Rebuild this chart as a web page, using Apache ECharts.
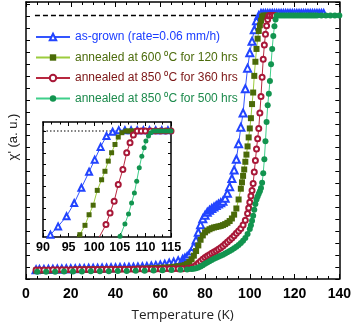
<!DOCTYPE html>
<html><head><meta charset="utf-8">
<script src="https://cdn.jsdelivr.net/npm/echarts@6/dist/echarts.min.js"></script>
<style>html,body{margin:0;padding:0;background:#fff}#c{width:354px;height:327px}</style>
</head><body><div id="c"></div>
<script>
const seriesNames = ['as-grown (rate=0.06 mm/h)', 'annealed at 600 \u2070C for 120 hrs', 'annealed at 850 \u2070C for 360 hrs', 'annealed at 850 \u2070C for 500 hrs'];
const xTickLabels = [0, 20, 40, 60, 80, 100, 120, 140];
const insetXTickLabels = [90, 95, 100, 105, 110, 115];
const insetYTicks = [0.064, 0.168, 0.272, 0.376, 0.48, 0.584, 0.688, 0.792, 0.896, 1.0];

const asGrown = [[4.5,.009],[6,.010],[8,.010],[10,.011],[12,.011],[14,.012],[16,.012],[18,.013],[20,.013],[22,.013],[24,.014],[26,.014],[28,.015],[30,.015],[32,.015],[34,.016],[36,.016],[38,.017],[40,.017],[42,.018],[44,.018],[46,.019],[48,.019],[50,.020],[52,.021],[54,.022],[56,.024],[58,.026],[60,.028],[62,.031],[64,.035],[66,.039],[68,.044],[70,.050],[71,.055],[72,.061],[73,.070],[74,.082],[75,.100],[76,.125],[77,.155],[78,.185],[79,.208],[80,.222],[81,.233],[82,.241],[83,.248],[84,.254],[85,.260],[86,.265],[87,.270],[88,.276],[89,.288],[90,.307],[91,.333],[92,.365],[93,.398],[94,.440],[95,.500],[96,.565],[97,.620],[98,.715],[99,.795],[100,.855],[101,.900],[102,.945],[103,.980],[104,1.0],[105,1.008],[106,1.008],[107,1.008],[108,1.008],[109,1.008],[110,1.008],[111,1.008],[112,1.008],[113,1.008],[114,1.008],[115,1.008],[116,1.008],[117,1.008],[118,1.008],[119,1.008],[120,1.008],[121,1.008],[122,1.008],[123,1.008],[124,1.008],[125,1.008],[126,1.008],[127,1.008],[128,1.008],[129,1.008],[130,1.008],[131,1.008],[132,1.008],[133,1.008]];

const ann600 = [[4.5,.006],[6,.006],[8,.006],[10,.007],[12,.007],[14,.007],[16,.008],[18,.008],[20,.008],[22,.009],[24,.009],[26,.009],[28,.010],[30,.010],[32,.010],[34,.010],[36,.011],[38,.011],[40,.011],[42,.011],[44,.012],[46,.012],[48,.012],[50,.013],[52,.013],[54,.014],[56,.015],[58,.016],[60,.017],[62,.018],[64,.019],[66,.021],[68,.023],[70,.025],[71,.027],[72,.032],[73,.040],[74,.050],[75,.064],[76,.082],[77,.104],[78,.126],[79,.143],[80,.155],[81,.162],[82,.167],[83,.171],[84,.174],[85,.176],[86,.178],[87,.180],[88,.183],[89,.187],[90,.192],[91,.199],[92,.209],[93,.224],[94,.248],[95,.283],[96,.325],[96.5,.350],[97,.375],[97.5,.400],[98,.430],[98.5,.458],[99,.490],[99.5,.525],[100,.560],[100.5,.600],[101,.655],[101.5,.700],[102,.765],[102.5,.820],[103,.870],[103.5,.910],[104,.940],[104.5,.962],[105,.980],[105.5,.995],[106,1.0],[107,1.0],[108,1.0],[109,1.0],[110,1.0],[111,1.0]];

const ann850h360 = [[4.5,.008],[6,.008],[8,.008],[10,.008],[12,.009],[14,.009],[16,.009],[18,.009],[20,.009],[22,.010],[24,.010],[26,.010],[28,.010],[30,.010],[32,.010],[34,.010],[36,.011],[38,.011],[40,.011],[42,.011],[44,.011],[46,.011],[48,.011],[50,.012],[52,.012],[54,.012],[56,.012],[58,.012],[60,.012],[62,.013],[64,.013],[66,.013],[68,.013],[70,.013],[72,.014],[73,.015],[74,.017],[75,.021],[76,.027],[77,.034],[78,.042],[79,.050],[80,.057],[81,.063],[82,.068],[83,.073],[84,.078],[85,.083],[86,.089],[87,.095],[88,.102],[89,.109],[90,.117],[91,.125],[92,.133],[93,.142],[94,.151],[95,.160],[96,.170],[97,.184],[98,.202],[99,.228],[99.5,.250],[100,.272],[100.5,.297],[101,.318],[101.5,.345],[102,.390],[102.5,.435],[103,.480],[103.5,.520],[104,.560],[104.5,.620],[105,.685],[105.5,.760],[106,.830],[106.5,.885],[107,.927],[107.5,.960],[108,.985],[108.5,.998],[109,1.0],[110,1.0],[111,1.0]];

const ann850h500 = [[5,.001],[9,.001],[13,.001],[17,.002],[21,.002],[25,.002],[29,.003],[33,.003],[37,.003],[41,.004],[45,.004],[49,.005],[53,.005],[57,.006],[61,.007],[65,.008],[69,.009],[72,.010],[74,.012],[75,.013],[76,.015],[77,.018],[78,.022],[79,.027],[80,.032],[81,.037],[82,.042],[83,.047],[84,.052],[85,.056],[86,.060],[87,.064],[88,.068],[89,.072],[90,.077],[91,.082],[92,.087],[93,.093],[94,.099],[95,.106],[96,.113],[97,.122],[98,.133],[99,.148],[100,.168],[100.5,.183],[101,.200],[101.5,.220],[102,.243],[102.5,.265],[103,.283],[103.5,.295],[104,.305],[104.5,.315],[105,.328],[105.5,.348],[106,.385],[106.5,.440],[107,.510],[107.5,.585],[108,.650],[108.5,.695],[109,.745],[109.5,.810],[110,.870],[110.5,.920],[111,.958],[111.5,.985],[112,1.0],[113,1.0],[114,1.0],[115,1.0],[116,1.0],[117,1.0],[118,1.0],[119,1.0],[120,1.0],[121,1.0],[122,1.0],[123,1.0],[124,1.0],[125,1.0],[126,1.0],[127,1.0],[128,1.0],[129,1.0],[130,1.0],[132,1.0],[134,1.0],[136,1.0],[138,1.0],[140,1.0]];

const insetGrown = [[90.7,0],[91.45,.022],[92.95,.10],[94.6,.196],[96.1,.32],[97.5,.464],[99.0,.615],[100.1,.73],[101.25,.85],[102.4,.953],[103.6,.993],[104.8,1.008],[106,1.008],[107.2,1.008],[108.4,1.008],[109.6,1.008],[110.8,1.008],[112,1.008],[113.2,1.008],[114.4,1.008]];
const insetAnn600 = [[96.7,0],[97.2,.022],[98.2,.11],[99.0,.21],[99.8,.30],[100.6,.44],[101.45,.54],[102.1,.62],[102.75,.716],[103.4,.795],[104.06,.873],[104.7,.943],[105.4,.984],[106.2,1.0],[106.7,1.0],[107.2,1.0],[107.7,1.0],[108.2,1.0],[108.7,1.0],[109.2,1.0],[109.7,1.0],[110.2,1.0],[110.7,1.0],[111.2,1.0],[111.7,1.0],[112.2,1.0],[112.7,1.0],[113.2,1.0],[113.7,1.0],[114.2,1.0],[114.7,1.0]];
const insetAnn850h360 = [[101.0,0],[102.3,.117],[103.1,.227],[103.9,.337],[104.7,.495],[105.6,.637],[106.35,.795],[107.0,.89],[107.65,.962],[108.4,1.0],[109.2,1.0],[110,1.0],[111,1.0],[112,1.0],[113,1.0],[114,1.0],[115,1.0]];
const insetAnn850h500 = [[105.05,.006],[106.0,.123],[106.7,.218],[107.3,.32],[107.85,.416],[108.3,.527],[108.8,.653],[109.3,.763],[109.75,.842],[110.1,.905],[110.6,.953],[111.05,.984],[111.6,1.0],[112.1,1.0],[112.6,1.0],[113.1,1.0],[113.6,1.0],[114.1,1.0],[114.6,1.0],[115,1.0]];

const plateauLine = [[4,1],[104,1]];
const insetPlateauLine = [[90,1],[103.5,1]];

const FF = 'Liberation Sans, Arial, sans-serif';
const styles = [
  {line:'#3355ff', mark:'#2244ff', text:'#1a3cff', symbol:'emptyTriangle', size:7, insetSize:6},
  {line:'#9ccc3c', mark:'#4a6a08', text:'#4b6b0b', symbol:'rect', size:6, insetSize:5},
  {line:'#b8283f', mark:'#a81838', text:'#7b1515', symbol:'emptyCircle', size:5, insetSize:5},
  {line:'#3fcf8a', mark:'#12944f', text:'#1c8a4c', symbol:'circle', size:6, insetSize:5}
];
const mainData = [asGrown, ann600, ann850h360, ann850h500];
const insetData = [insetGrown, insetAnn600, insetAnn850h360, insetAnn850h500];

function mkSeries(name, data, st, xi, yi, size, clipFirst) {
  return {
    name: name, type: 'line', xAxisIndex: xi, yAxisIndex: yi,
    data: data.map((p, i) => (clipFirst && i === 0 && p[1] === 0) ? {value: p, symbol: 'none'} : p),
    symbol: st.symbol, symbolSize: size, showSymbol: true,
    lineStyle: {color: st.line, width: 1},
    itemStyle: {color: st.mark, borderWidth: 1.1},
    animation: false, silent: true, clip: true
  };
}

const series = [];
series.push({type:'line', xAxisIndex:0, yAxisIndex:0, data: plateauLine, symbol:'none', lineStyle:{color:'#000', width:1.5, type:[5,3]}, animation:false, silent:true});
for (let i = 0; i < 4; i++) series.push(mkSeries(seriesNames[i], mainData[i], styles[i], 0, 0, styles[i].size, false));
series.push({type:'line', xAxisIndex:2, yAxisIndex:3, data: insetPlateauLine, symbol:'none', lineStyle:{color:'#000', width:1.2, type:[1.5,2]}, animation:false, silent:true});
for (let i = 0; i < 4; i++) series.push(mkSeries(seriesNames[i], insetData[i], styles[i], 2, 3, styles[i].insetSize, true));

const axLine = {show:true, onZero:false, lineStyle:{color:'#000', width:1.5}};
const noLine = {show:false, onZero:false};

const option = {
  backgroundColor: '#fff',
  animation: false,
  grid: [
    {left:26, right:13, top:2, bottom:42},
    {left:43, top:122, width:128, height:115, show:true, backgroundColor:'#fff', borderWidth:0}
  ],
  legend: {
    orient:'vertical', left:30, top:26, itemWidth:34, itemHeight:8, itemGap:8.5,
    textStyle:{fontFamily:FF, fontSize:12},
    data: seriesNames.map((n,i)=>({name:n, textStyle:{color:styles[i].text}})),
    selectedMode:false
  },
  xAxis: [
    {gridIndex:0, type:'value', min:0, max:140, interval:20, position:'bottom', axisLine:axLine,
     axisTick:{inside:true, length:5, lineStyle:{color:'#000'}},
     minorTick:{show:true, splitNumber:4, length:3, lineStyle:{color:'#000'}},
     axisLabel:{color:'#000', fontSize:14, fontWeight:'bold', fontFamily:FF, margin:8,
       customValues: xTickLabels},
     splitLine:{show:false},
     name:'Temperature (K)', nameLocation:'middle', nameGap:29,
     nameTextStyle:{color:'#222', fontSize:13.5, fontFamily:'Open Sans, sans-serif'}},
    {gridIndex:0, type:'value', min:0, max:140, interval:20, position:'top', axisLine:axLine,
     axisTick:{inside:true, length:5, lineStyle:{color:'#000'}},
     minorTick:{show:true, splitNumber:4, length:3, lineStyle:{color:'#000'}},
     axisLabel:{show:false}, splitLine:{show:false}},
    {gridIndex:1, type:'value', min:90, max:115, interval:5, position:'bottom', axisLine:axLine,
     axisTick:{inside:true, length:4, lineStyle:{color:'#000'}},
     minorTick:{show:true, splitNumber:3, length:2.5, lineStyle:{color:'#000'}},
     axisLabel:{color:'#000', fontSize:12.5, fontWeight:'bold', fontFamily:FF, margin:4,
       customValues: insetXTickLabels},
     splitLine:{show:false}},
    {gridIndex:1, type:'value', min:90, max:115, interval:5, position:'top', axisLine:axLine,
     axisTick:{inside:true, length:4, lineStyle:{color:'#000'}},
     minorTick:{show:true, splitNumber:3, length:2.5, lineStyle:{color:'#000'}},
     axisLabel:{show:false}, splitLine:{show:false}}
  ],
  yAxis: [
    {gridIndex:0, type:'value', min:-0.027, max:1.053, position:'left', axisLine:axLine,
     axisTick:{show:false}, axisLabel:{show:false}, splitLine:{show:false}},
    {gridIndex:0, type:'value', min:0, max:23.2, interval:1, position:'left', axisLine:noLine,
     axisTick:{inside:true, length:4, lineStyle:{color:'#000'}}, axisLabel:{show:false}, splitLine:{show:false}},
    {gridIndex:0, type:'value', min:0, max:23.2, interval:1, position:'right', axisLine:axLine,
     axisTick:{inside:true, length:4, lineStyle:{color:'#000'}}, axisLabel:{show:false}, splitLine:{show:false}},
    {gridIndex:1, type:'value', min:0, max:1.085, position:'left', axisLine:axLine,
     axisTick:{inside:true, length:3, lineStyle:{color:'#000'}, customValues: insetYTicks},
     axisLabel:{show:false}, splitLine:{show:false}},
    {gridIndex:1, type:'value', min:0, max:1.085, position:'right', axisLine:axLine,
     axisTick:{inside:true, length:3, lineStyle:{color:'#000'}, customValues: insetYTicks},
     axisLabel:{show:false}, splitLine:{show:false}}
  ],
  graphic: [
    {type:'text', x:13, y:137, rotation:Math.PI/2,
     style:{text:"\u03c7' (a. u.)", fontSize:13, fontFamily:FF, fill:'#222', align:'center', verticalAlign:'middle'}}
  ],
  series: series
};
const chart = echarts.init(document.getElementById('c'), null, {renderer:'canvas'});
chart.setOption(option);
</script></body></html>
